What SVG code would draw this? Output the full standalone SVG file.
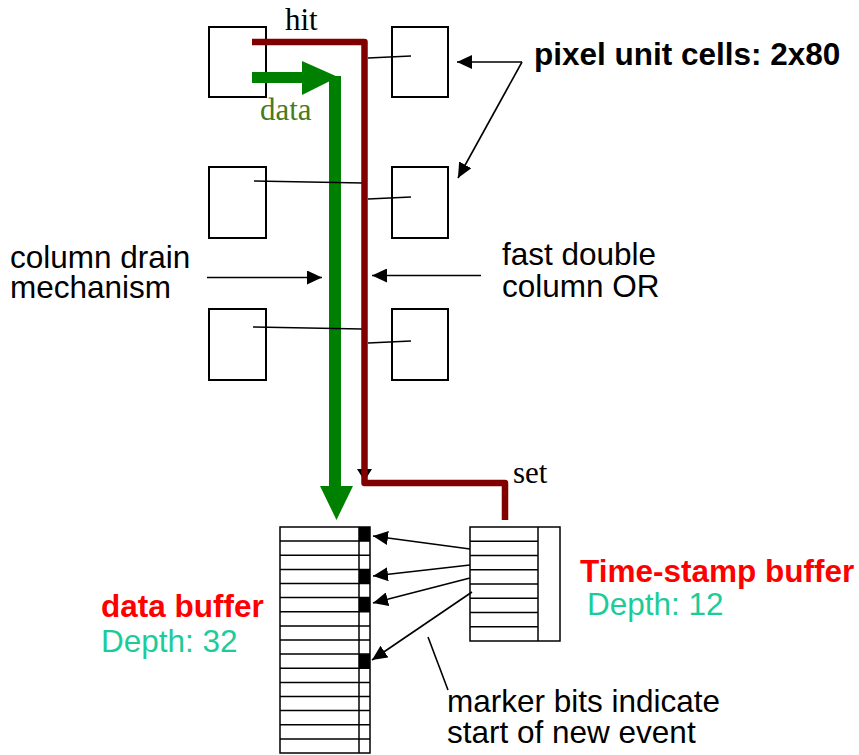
<svg xmlns="http://www.w3.org/2000/svg" width="859" height="755" viewBox="0 0 859 755">
<style>
.box{fill:#fff;stroke:#000;stroke-width:2}
.thin{fill:none;stroke:#000;stroke-width:1.6}
.buf{fill:none;stroke:#000;stroke-width:1.5}
.sans{font-family:"Liberation Sans",Arial,sans-serif;font-size:31.5px;fill:#000}
.serif{font-family:"Liberation Serif","Times New Roman",serif;font-size:31px;fill:#000}
.bold{font-weight:bold}
.red{fill:#ff0000}
.teal{fill:#1ccc98}
.olive{fill:#4a7a1a}
</style>
<defs>
<marker id="ah" viewBox="0 0 15 14" refX="15" refY="7" markerWidth="15" markerHeight="14" markerUnits="userSpaceOnUse" orient="auto">
<path d="M0,0 L15,7 L0,14 Z" fill="#000"/>
</marker>
</defs>
<rect width="859" height="755" fill="#fff"/>

<g id="cell-left-1"><rect class="box" x="209" y="27" width="57" height="70"/></g>
<g id="cell-right-1"><rect class="box" x="392" y="27" width="56" height="70"/></g>
<g id="cell-left-2"><rect class="box" x="209" y="167" width="57" height="71"/></g>
<g id="cell-right-2"><rect class="box" x="392" y="167" width="56" height="71"/></g>
<g id="cell-left-3"><rect class="box" x="209" y="309" width="57" height="71"/></g>
<g id="cell-right-3"><rect class="box" x="392" y="309" width="56" height="71"/></g>

<g id="data-buffer">
<rect class="buf" x="280" y="527" width="90" height="226"/>
<line class="buf" x1="359" y1="527" x2="359" y2="753"/>
<path class="buf" d="M280,541.1H370M280,555.25H370M280,569.4H370M280,583.5H370M280,597.6H370M280,611.75H370M280,625.9H370M280,640H370M280,654.1H370M280,668.25H370M280,682.4H370M280,696.5H370M280,710.6H370M280,724.75H370M280,738.9H370"/>
<rect x="359" y="527" width="11" height="14.1" fill="#000"/>
<rect x="359" y="569.4" width="11" height="14.1" fill="#000"/>
<rect x="359" y="597.6" width="11" height="14.1" fill="#000"/>
<rect x="359" y="654.1" width="11" height="14.1" fill="#000"/>
</g>

<g id="timestamp-buffer">
<rect class="buf" x="470" y="527" width="90" height="114"/>
<line class="buf" x1="538" y1="527" x2="538" y2="641"/>
<path class="buf" d="M470,541.25H538M470,555.5H538M470,569.75H538M470,584H538M470,598.25H538M470,612.5H538M470,626.75H538"/>
</g>

<g id="connectors">
<polygon points="357,469 372,469 364.5,481" fill="#000"/>
<path d="M252,77.5H303" fill="none" stroke="#008000" stroke-width="11"/>
<polygon points="302,61 338,77 302,95" fill="#008000"/>
<path d="M335,76V488" fill="none" stroke="#008000" stroke-width="12"/>
<polygon points="320,486 353,486 336.5,520" fill="#008000"/>
<line class="thin" x1="254" y1="181" x2="363" y2="183"/>
<line class="thin" x1="253" y1="327" x2="362" y2="329"/>
<line class="thin" x1="368" y1="58" x2="411" y2="56"/>
<line class="thin" x1="368" y1="199" x2="411" y2="197"/>
<line class="thin" x1="368" y1="343" x2="411" y2="341"/>
<path d="M252,42H364.5V483H505V520" fill="none" stroke="#800000" stroke-width="6.5" stroke-linejoin="round"/>
<line class="thin" x1="207" y1="277.5" x2="322" y2="277.5" marker-end="url(#ah)"/>
<line class="thin" x1="481" y1="275.5" x2="372" y2="275.5" marker-end="url(#ah)"/>
<line class="thin" x1="522" y1="62" x2="457" y2="62" marker-end="url(#ah)"/>
<line class="thin" x1="522" y1="62" x2="458" y2="178" marker-end="url(#ah)"/>
<line class="thin" x1="470" y1="549" x2="373" y2="536" marker-end="url(#ah)"/>
<line class="thin" x1="470" y1="565" x2="373" y2="576" marker-end="url(#ah)"/>
<line class="thin" x1="470" y1="578" x2="373" y2="603" marker-end="url(#ah)"/>
<line class="thin" x1="472" y1="592" x2="372" y2="660" marker-end="url(#ah)"/>
<line class="thin" x1="428" y1="637" x2="448" y2="690"/>
</g>

<g id="labels">
<text class="serif" x="285" y="30">hit</text>
<text class="serif olive" x="260" y="120">data</text>
<text class="serif" x="513" y="483">set</text>
<text class="sans bold" x="534" y="65">pixel unit cells: 2x80</text>
<text class="sans" x="10" y="268"><tspan x="10" y="268">column drain</tspan><tspan x="10" y="298">mechanism</tspan></text>
<text class="sans" x="502" y="265"><tspan x="502" y="265">fast double</tspan><tspan x="502" y="297">column OR</tspan></text>
<text class="sans bold red" x="580" y="582">Time-stamp buffer</text>
<text class="sans teal" x="587" y="615">Depth: 12</text>
<text class="sans bold red" x="101" y="617">data buffer</text>
<text class="sans teal" x="101" y="652">Depth: 32</text>
<text class="sans" x="447" y="712"><tspan x="447" y="712">marker bits indicate</tspan><tspan x="447" y="743">start of new event</tspan></text>
</g>
</svg>
